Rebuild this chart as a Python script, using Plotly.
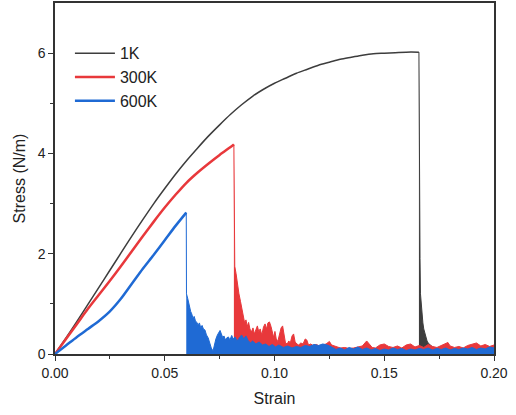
import plotly.graph_objects as go

# ---- data ----
strain_1k = [0, 0.005, 0.01, 0.015, 0.02, 0.025, 0.03, 0.035, 0.04, 0.045, 0.05, 0.055, 0.06, 0.065,
             0.07, 0.075, 0.08, 0.085, 0.09, 0.095, 0.10, 0.105, 0.11, 0.115, 0.12, 0.125, 0.13, 0.135,
             0.14, 0.145, 0.15, 0.155, 0.16, 0.1658]
stress_1k = [0, 0.32, 0.65, 0.99, 1.33, 1.67, 2.01, 2.35, 2.68, 3.0, 3.3, 3.59, 3.86, 4.11,
             4.35, 4.57, 4.78, 4.97, 5.14, 5.28, 5.4, 5.5, 5.6, 5.68, 5.76, 5.82, 5.88, 5.92,
             5.96, 5.99, 6.0, 6.01, 6.02, 6.02]
tail_strain_1k = [0.1658, 0.1659, 0.1661, 0.1663, 0.1665, 0.1668, 0.1672, 0.1676, 0.1680, 0.1685,
                  0.1690, 0.1695, 0.1700, 0.1710, 0.1720, 0.1740, 0.1780, 0.1850, 0.2000]
tail_stress_1k = [6.02, 4.0, 3.0, 1.9, 1.2, 1.0, 0.8, 0.62, 0.5, 0.4,
                  0.32, 0.26, 0.22, 0.18, 0.14, 0.1, 0.08, 0.07, 0.06]

strain_300k = [0, 0.005, 0.01, 0.015, 0.02, 0.025, 0.03, 0.035, 0.04, 0.045, 0.05, 0.055, 0.06,
               0.065, 0.07, 0.075, 0.08, 0.0815]
stress_300k = [0, 0.3, 0.6, 0.9, 1.18, 1.46, 1.75, 2.05, 2.35, 2.64, 2.92, 3.18, 3.42,
               3.62, 3.8, 3.97, 4.13, 4.18]
tail_strain_300k = [0.0815, 0.0819, 0.0825, 0.0832, 0.0838, 0.0845, 0.0852, 0.0858, 0.0864, 0.0870,
                    0.0876, 0.0882, 0.0888, 0.0895, 0.0902, 0.0908, 0.0915, 0.0922, 0.0928, 0.0935,
                    0.0942, 0.0950, 0.0957, 0.0964, 0.0970, 0.0977, 0.0984, 0.0990, 0.0996, 0.1002,
                    0.1008, 0.1015, 0.1022, 0.1030, 0.1037, 0.1044, 0.1050, 0.1058, 0.1065, 0.1072,
                    0.1080, 0.1087, 0.1094, 0.1102, 0.1110, 0.1120, 0.1130, 0.1140, 0.1147, 0.1155,
                    0.1165, 0.1175, 0.1190, 0.1205, 0.1220, 0.1235, 0.1250, 0.1260, 0.1280, 0.1300,
                    0.1320, 0.1340, 0.1360, 0.1380, 0.1400, 0.1420, 0.1430, 0.1445, 0.1460, 0.1480,
                    0.1500, 0.1520, 0.1540, 0.1560, 0.1580, 0.1600, 0.1620, 0.1640, 0.1660, 0.1680,
                    0.1700, 0.1720, 0.1740, 0.1760, 0.1780, 0.1790, 0.1800, 0.1820, 0.1840, 0.1860,
                    0.1880, 0.1900, 0.1920, 0.1940, 0.1960, 0.1980, 0.2000]
tail_stress_300k = [4.18, 1.75, 1.6, 1.35, 1.2, 1.05, 0.9, 0.75, 0.62, 0.68,
                    0.55, 0.63, 0.5, 0.44, 0.52, 0.4, 0.5, 0.56, 0.45, 0.5,
                    0.38, 0.54, 0.6, 0.5, 0.62, 0.64, 0.55, 0.42, 0.33, 0.45,
                    0.3, 0.25, 0.4, 0.52, 0.56, 0.35, 0.22, 0.2, 0.26, 0.22,
                    0.36, 0.4, 0.24, 0.2, 0.18, 0.22, 0.2, 0.3, 0.28, 0.18,
                    0.2, 0.17, 0.19, 0.16, 0.18, 0.2, 0.25, 0.18, 0.15, 0.12,
                    0.13, 0.11, 0.12, 0.14, 0.16, 0.26, 0.2, 0.13, 0.12, 0.18,
                    0.2, 0.15, 0.13, 0.16, 0.12, 0.18, 0.2, 0.14, 0.17, 0.13,
                    0.19, 0.15, 0.13, 0.17, 0.21, 0.23, 0.16, 0.13, 0.15, 0.12,
                    0.17, 0.2, 0.22, 0.16, 0.19, 0.15, 0.18]

strain_600k = [0, 0.005, 0.01, 0.015, 0.02, 0.025, 0.03, 0.035, 0.04, 0.045, 0.05, 0.055, 0.0598]
stress_600k = [0, 0.17, 0.34, 0.5, 0.66, 0.85, 1.1, 1.4, 1.7, 1.98, 2.27, 2.56, 2.82]
tail_strain_600k = [0.0598, 0.0599, 0.0605, 0.0612, 0.0618, 0.0623, 0.0628, 0.0634, 0.0640, 0.0646,
                    0.0652, 0.0658, 0.0664, 0.0670, 0.0676, 0.0683, 0.0690, 0.0698, 0.0705, 0.0712,
                    0.0720, 0.0727, 0.0733, 0.0740, 0.0746, 0.0752, 0.0758, 0.0764, 0.0770, 0.0776,
                    0.0782, 0.0790, 0.0797, 0.0805, 0.0812, 0.0820, 0.0830, 0.0840, 0.0850, 0.0860,
                    0.0870, 0.0880, 0.0890, 0.0900, 0.0915, 0.0930, 0.0945, 0.0960, 0.0975, 0.0990,
                    0.1005, 0.1020, 0.1040, 0.1060, 0.1080, 0.1100, 0.1120, 0.1140, 0.1160, 0.1180,
                    0.1200, 0.1220, 0.1240, 0.1260, 0.1280, 0.1300, 0.1320, 0.1340, 0.1360, 0.1380,
                    0.1400, 0.1420, 0.1440, 0.1460, 0.1480, 0.1500, 0.1520, 0.1540, 0.1560, 0.1580,
                    0.1600, 0.1620, 0.1640, 0.1660, 0.1680, 0.1700, 0.1720, 0.1740, 0.1760, 0.1780,
                    0.1800, 0.1820, 0.1840, 0.1860, 0.1880, 0.1900, 0.1920, 0.1940, 0.1960, 0.1980,
                    0.2000]
tail_stress_600k = [2.82, 1.2, 1.1, 0.95, 0.85, 0.8, 0.72, 0.75, 0.66, 0.63,
                    0.58, 0.62, 0.52, 0.57, 0.5, 0.48, 0.38, 0.32, 0.22, 0.12,
                    0.06, 0.2, 0.3, 0.38, 0.44, 0.47, 0.4, 0.33, 0.36, 0.28,
                    0.32, 0.34, 0.28, 0.37, 0.3, 0.34, 0.26, 0.33, 0.38, 0.3,
                    0.36, 0.27, 0.22, 0.26, 0.2, 0.24, 0.18, 0.2, 0.15, 0.19,
                    0.14, 0.18, 0.13, 0.16, 0.12, 0.15, 0.13, 0.17, 0.15, 0.19,
                    0.17, 0.2, 0.18, 0.14, 0.09, 0.12, 0.08, 0.13, 0.1, 0.14,
                    0.09, 0.12, 0.08, 0.11, 0.07, 0.1, 0.08, 0.12, 0.09, 0.11,
                    0.07, 0.1, 0.08, 0.11, 0.09, 0.12, 0.08, 0.11, 0.09, 0.12,
                    0.08, 0.11, 0.09, 0.12, 0.1, 0.13, 0.09, 0.12, 0.1, 0.14,
                    0.12]

names = ["1K", "300K", "600K"]
colors = ["#3d3d3d", "#e8383b", "#1f6ad4"]
line_widths = [1.5, 2.5, 2.5]

series = [
    (strain_1k, stress_1k, tail_strain_1k, tail_stress_1k),
    (strain_300k, stress_300k, tail_strain_300k, tail_stress_300k),
    (strain_600k, stress_600k, tail_strain_600k, tail_stress_600k),
]

fig = go.Figure()
for name, color, lw, (sx, sy, tx, ty) in zip(names, colors, line_widths, series):
    fig.add_trace(go.Scatter(x=sx, y=sy, mode="lines", name=name,
                             line=dict(color=color, width=lw, shape="spline", smoothing=0.8)))
    fig.add_trace(go.Scatter(x=tx, y=ty, mode="lines", showlegend=False,
                             line=dict(color=color, width=1), fill="tozeroy",
                             fillcolor=color))

font_family = "Arial, Liberation Sans, sans-serif"
axis_common = dict(
    showline=True, linecolor="#333333", linewidth=1.5, mirror=True,
    ticks="outside", ticklen=5, tickwidth=1.3, tickcolor="#333333",
    showgrid=False, zeroline=False,
    tickfont=dict(family=font_family, size=14, color="#222222"),
    minor=dict(ticks="outside", ticklen=3, tickwidth=1.2, tickcolor="#333333"),
)

fig.update_layout(
    width=516, height=415,
    margin=dict(l=55, r=22, t=1, b=61),
    paper_bgcolor="white", plot_bgcolor="white",
    font=dict(family=font_family, color="#222222"),
    showlegend=True,
    legend=dict(x=0.034, y=0.905, xanchor="left", yanchor="top", itemwidth=40,
                bgcolor="rgba(0,0,0,0)", font=dict(size=16, family=font_family, color="#222222"),
                tracegroupgap=0),
)
fig.update_xaxes(range=[0, 0.2], tickvals=[0, 0.05, 0.1, 0.15, 0.2],
                 ticktext=["0.00", "0.05", "0.10", "0.15", "0.20"],
                 title=dict(text="Strain", font=dict(size=16, family=font_family), standoff=13),
                 **axis_common)
fig.update_xaxes(minor=dict(tickvals=[0.025, 0.075, 0.125, 0.175]))
fig.update_yaxes(range=[0, 7], tickvals=[0, 2, 4, 6],
                 title=dict(text="Stress (N/m)", font=dict(size=16, family=font_family), standoff=8),
                 **axis_common)
fig.update_yaxes(minor=dict(tickvals=[1, 3, 5]))

fig.write_html("out.html")
